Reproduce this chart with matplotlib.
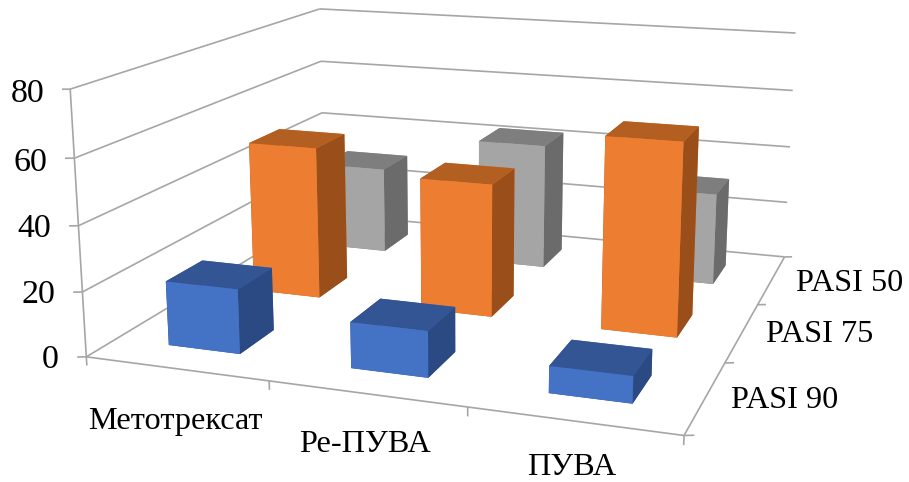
import numpy as np
import matplotlib
matplotlib.use("Agg")
import matplotlib.pyplot as plt

categories = ["Метотрексат", "Ре-ПУВА", "ПУВА"]
series_names = ["PASI 90", "PASI 75", "PASI 50"]
pasi_90 = [20, 14, 8]
pasi_75 = [50, 43, 61]
pasi_50 = [30, 43, 31]
z_ticks = [0, 20, 40, 60, 80]

# face colours: front, top, side
blue = ("#4472C4", "#335593", "#2B4A83")
orange = ("#ED7D31", "#B35F22", "#9A4F1B")
grey = ("#A5A5A5", "#7E7E7E", "#6B6B6B")
line_col = "#A6A6A6"

W, H = 909, 482
plt.rcParams["font.family"] = ["Liberation Serif", "DejaVu Serif"]

fig = plt.figure(figsize=(W / 100, H / 100), dpi=100)
side = 790.7
ax = fig.add_axes([62.0 / W, -106.6 / H, side / W, side / H], projection="3d")
ax.set_proj_type("persp", focal_length=0.383)
ax.view_init(14.09, -70.74)
ax.set_xlim(0, 3)
ax.set_ylim(0, 3)
ax.set_zlim(0, 80)
ax.set_box_aspect((1, 0.957, 0.449))
ax.set_axis_off()
ax.patch.set_visible(False)
ax.computed_zorder = False

n_cat = len(categories)
n_ser = len(series_names)


def seg(a, b):
    ax.plot(*zip(a, b), color=line_col, lw=1.2, zorder=1, solid_capstyle="butt")


# wall gridlines
for z in z_ticks:
    seg((0, 0, z), (0, n_ser, z))
    seg((0, n_ser, z), (n_cat, n_ser, z))
    seg((0, 0, z), (-0.041, -0.018, z))

# axis lines and ticks along the floor
seg((0, 0, 0), (0, 0, 80))
seg((0, 0, 0), (n_cat, 0, 0))
seg((n_cat, 0, 0), (n_cat, n_ser, 0))
for i in range(n_cat + 1):
    seg((i, 0, 0), (i, 0, -2.7))
for j in range(n_ser + 1):
    seg((n_cat, j, 0), (n_cat + 0.042, j + 0.018, 0))

# back row first so the front bars cover it
rows = [(2, pasi_50, grey, 2), (1, pasi_75, orange, 3), (0, pasi_90, blue, 4)]
for j, values, cols, order in rows:
    front, top, right = cols
    # bar3d face order: -z, +z, -y, +y, -x, +x
    faces = [top, top, front, front, right, right]
    for i, v in enumerate(values):
        ax.bar3d(i + 0.3, j + 0.3, 0, 0.4, 0.4, v, color=faces,
                 shade=False, linewidth=0, zorder=order)

# tick labels
for z, x, y in zip(z_ticks, [59, 55, 51, 47, 45], [368, 303, 237, 171, 102]):
    fig.text(x / W, 1 - y / H, str(z), ha="right", va="baseline", fontsize=24.5)
for name, x, y in zip(categories, [88, 299, 527], [429, 452, 475]):
    fig.text(x / W, 1 - y / H, name, ha="left", va="baseline", fontsize=23.2)
for name, x, y in zip(series_names, [731, 766, 796], [408, 342, 291]):
    fig.text(x / W, 1 - y / H, name, ha="left", va="baseline", fontsize=23.2)

fig.savefig("out.png", dpi=100)
